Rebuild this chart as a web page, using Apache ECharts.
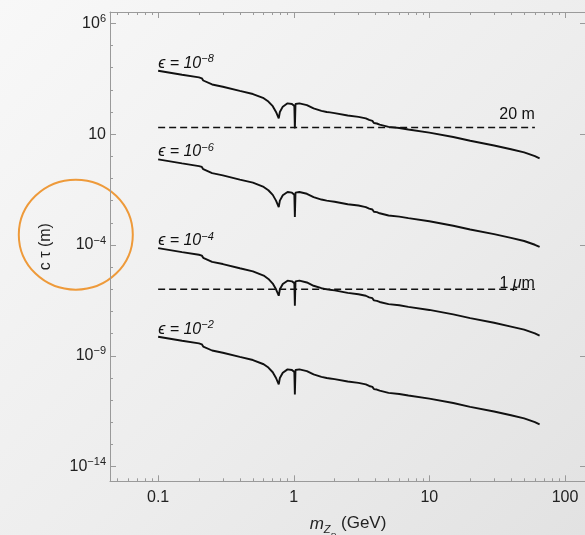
<!DOCTYPE html>
<html>
<head>
<meta charset="utf-8">
<script src="https://cdn.jsdelivr.net/npm/echarts@6/dist/echarts.min.js"></script>
<style>
  html, body { margin: 0; padding: 0; }
  #chart { width: 585px; height: 535px; background: linear-gradient(135deg, #f8f8f8 0%, #ededed 55%, #e2e2e2 100%); }
</style>
</head>
<body>
<div id="chart"></div>
<script>
// 质量 (GeV)
var mZD = [0.1, 0.15, 0.2, 0.21, 0.215, 0.22, 0.25, 0.3, 0.4, 0.5, 0.6, 0.65, 0.7, 0.74, 0.775, 0.79, 0.83, 0.9, 0.97,
  1.01, 1.019, 1.03, 1.1, 1.25, 1.4, 1.6, 1.75, 1.8, 1.85, 1.9, 2.0, 2.5, 3.0, 3.4, 3.6, 3.7, 3.8, 3.9, 4.0, 4.1, 4.3,
  5.0, 6.0, 7.0, 10, 15, 20, 30, 40, 50, 60, 65];
// log10(c tau / m)，每条曲线一个数组
var ctEps8 = [3.86, 3.68, 3.56, 3.52, 3.42, 3.37, 3.24, 3.14, 2.95, 2.81, 2.62, 2.47, 2.26, 2.00, 1.71, 2.00, 2.24, 2.39, 2.36,
  2.27, 1.26, 2.36, 2.39, 2.31, 2.16, 2.05, 2.00, 2.04, 1.98, 2.02, 1.95, 1.84, 1.78, 1.71, 1.64, 1.56, 1.60, 1.50, 1.44, 1.48, 1.43,
  1.33, 1.28, 1.21, 1.07, 0.87, 0.70, 0.49, 0.32, 0.18, 0.01, -0.09];
var ctEps6 = [-0.14, -0.32, -0.44, -0.48, -0.58, -0.63, -0.76, -0.86, -1.05, -1.19, -1.38, -1.53, -1.74, -2.00, -2.29, -2.00, -1.76, -1.61, -1.64,
  -1.73, -2.74, -1.64, -1.61, -1.69, -1.84, -1.95, -2.00, -1.96, -2.02, -1.98, -2.05, -2.16, -2.22, -2.29, -2.36, -2.44, -2.40, -2.50, -2.56, -2.52, -2.57,
  -2.67, -2.72, -2.79, -2.93, -3.13, -3.30, -3.51, -3.68, -3.82, -3.99, -4.09];
var ctEps4 = [-4.14, -4.32, -4.44, -4.48, -4.58, -4.63, -4.76, -4.86, -5.05, -5.19, -5.38, -5.53, -5.74, -6.00, -6.29, -6.00, -5.76, -5.61, -5.64,
  -5.73, -6.74, -5.64, -5.61, -5.69, -5.84, -5.95, -6.00, -5.96, -6.02, -5.98, -6.05, -6.16, -6.22, -6.29, -6.36, -6.44, -6.40, -6.50, -6.56, -6.52, -6.57,
  -6.67, -6.72, -6.79, -6.93, -7.13, -7.30, -7.51, -7.68, -7.82, -7.99, -8.09];
var ctEps2 = [-8.14, -8.32, -8.44, -8.48, -8.58, -8.63, -8.76, -8.86, -9.05, -9.19, -9.38, -9.53, -9.74, -10.00, -10.29, -10.00, -9.76, -9.61, -9.64,
  -9.73, -10.74, -9.64, -9.61, -9.69, -9.84, -9.95, -10.00, -9.96, -10.02, -9.98, -10.05, -10.16, -10.22, -10.29, -10.36, -10.44, -10.40, -10.50, -10.56, -10.52, -10.57,
  -10.67, -10.72, -10.79, -10.93, -11.13, -11.30, -11.51, -11.68, -11.82, -11.99, -12.09];
var epsExp = [-8, -6, -4, -2];
// 参考线
var refMass = [0.1, 60];
var refLen = [20, 1e-6];
// 刻度
var xMajor = [0.1, 1, 10, 100];
var xMinor = [0.05, 0.06, 0.07, 0.08, 0.09, 0.2, 0.3, 0.4, 0.5, 0.6, 0.7, 0.8, 0.9, 2, 3, 4, 5, 6, 7, 8, 9, 20, 30, 40, 50, 60, 70, 80, 90];
var yMajor = [-14, -9, -4, 1, 6];
var yMinor = [-13, -12, -11, -10, -8, -7, -6, -5, -3, -2, -1, 0, 2, 3, 4, 5];

var FONT = '"Liberation Sans", Arial, "DejaVu Sans", sans-serif';
var xMin = -1.355, xMax = 2.155, yMin = -14.66, yMax = 6.51;
var axisGray = '#9a9a9a';

function lg(v) { return Math.log10(v); }
function sup(n) { return (n < 0 ? '\u2212' : '') + Math.abs(n); }

var myChart = echarts.init(document.getElementById('chart'));

function xAx(pos, ticks, len, showLabel, showLine) {
    return {
        type: 'value', position: pos, min: xMin, max: xMax,
        axisLine: { show: showLine, onZero: false, lineStyle: { color: axisGray, width: 1 } },
        axisTick: { show: true, inside: true, length: len, customValues: ticks.map(lg), lineStyle: { color: axisGray } },
        axisLabel: {
            show: showLabel, customValues: xMajor.map(lg), margin: 8,
            color: '#222', fontSize: 16, fontFamily: FONT,
            formatter: function (v) {
                for (var i = 0; i < xMajor.length; i++) if (Math.abs(lg(xMajor[i]) - v) < 1e-6) return String(xMajor[i]);
                return '';
            }
        },
        splitLine: { show: false }
    };
}
function yAx(pos, ticks, len, showLabel, showLine) {
    return {
        type: 'value', position: pos, min: yMin, max: yMax,
        axisLine: { show: showLine, onZero: false, lineStyle: { color: axisGray, width: 1 } },
        axisTick: { show: true, inside: true, length: len, customValues: ticks, lineStyle: { color: axisGray } },
        axisLabel: {
            show: showLabel, customValues: yMajor, margin: 4,
            formatter: function (v) {
                v = Math.round(v);
                return v === 1 ? '{b|10}' : '{b|10}{s|' + sup(v) + '}';
            },
            rich: {
                b: { fontSize: 16, lineHeight: 20, color: '#222', fontFamily: FONT },
                s: { fontSize: 11, lineHeight: 11, color: '#222', fontFamily: FONT, verticalAlign: 'top' }
            }
        },
        splitLine: { show: false }
    };
}

var xAxes = [
    xAx('bottom', xMajor, 6, true, true),
    xAx('bottom', xMinor, 3, false, false),
    xAx('top', xMajor, 6, false, true),
    xAx('top', xMinor, 3, false, false)
];
xAxes[0].name = '{m|m}{z|Z}{d|D}{n| (GeV)}';
xAxes[0].nameLocation = 'middle';
xAxes[0].nameGap = 34;
xAxes[0].nameTextStyle = {
    rich: {
        m: { fontSize: 17, lineHeight: 17, fontStyle: 'italic', color: '#222', fontFamily: FONT, verticalAlign: 'top' },
        z: { fontSize: 11, lineHeight: 11, fontStyle: 'italic', color: '#222', fontFamily: FONT, verticalAlign: 'top', padding: [9, 0, 0, 0] },
        d: { fontSize: 8, lineHeight: 8, fontStyle: 'italic', color: '#222', fontFamily: FONT, verticalAlign: 'top', padding: [16, 0, 0, 0] },
        n: { fontSize: 17, lineHeight: 17, color: '#222', fontFamily: FONT, verticalAlign: 'top' }
    }
};

var yAxes = [
    yAx('left', yMajor, 6, true, true),
    yAx('left', yMinor, 3, false, false),
    yAx('right', yMajor, 6, false, true)
];
yAxes[0].name = 'c \u03c4 (m)';
yAxes[0].nameLocation = 'middle';
yAxes[0].nameGap = 56;
yAxes[0].nameTextStyle = { fontSize: 16, color: '#222', fontFamily: FONT };

var curves = [ctEps8, ctEps6, ctEps4, ctEps2];
var series = [];
curves.forEach(function (c, k) {
    series.push({
        type: 'line',
        xAxisIndex: 0, yAxisIndex: 0,
        showSymbol: false,
        silent: true,
        lineStyle: { color: '#111', width: 1.9 },
        data: mZD.map(function (m, i) { return [lg(m), c[i]]; }),
        markPoint: {
            symbol: 'circle', symbolSize: 0, silent: true, animation: false,
            data: [{
                coord: [lg(mZD[0]), c[0]],
                label: {
                    show: true, position: [0, 2], align: 'left', verticalAlign: 'bottom',
                    formatter: '{e|\u03f5 = 10}{s|' + sup(epsExp[k]) + '}',
                    rich: {
                        e: { fontSize: 16, lineHeight: 19, fontStyle: 'italic', color: '#111', fontFamily: FONT },
                        s: { fontSize: 11, lineHeight: 11, fontStyle: 'italic', color: '#111', fontFamily: FONT, verticalAlign: 'top' }
                    }
                }
            }]
        }
    });
});

var refText = ['{r|20 m}', '{r|1 }{i|\u03bc}{r|m}'];
var refOffset = [-4, 3];
refLen.forEach(function (L, k) {
    series.push({
        type: 'line',
        xAxisIndex: 0, yAxisIndex: 0,
        showSymbol: false,
        silent: true,
        lineStyle: { color: '#111', width: 1.4, type: [7, 4] },
        data: refMass.map(function (m) { return [lg(m), lg(L)]; }),
        markPoint: {
            symbol: 'circle', symbolSize: 0, silent: true, animation: false,
            data: [{
                coord: [lg(refMass[1]), lg(L)],
                label: {
                    show: true, position: [0, refOffset[k]], align: 'right', verticalAlign: 'bottom',
                    formatter: refText[k],
                    rich: {
                        r: { fontSize: 16, lineHeight: 18, color: '#111', fontFamily: FONT },
                        i: { fontSize: 16, lineHeight: 18, fontStyle: 'italic', color: '#111', fontFamily: FONT }
                    }
                }
            }]
        }
    });
});

var option = {
    animation: false,
    grid: { left: 110, top: 12, right: -1, bottom: 53.7, containLabel: false, outerBoundsMode: 'none' },
    xAxis: xAxes,
    yAxis: yAxes,
    series: series,
    graphic: [{
        type: 'ellipse', silent: true,
        shape: { cx: 75.8, cy: 234.7, rx: 57, ry: 55 },
        style: { fill: 'none', stroke: '#ee9a3a', lineWidth: 2 }
    }]
};
myChart.setOption(option);
</script>
</body>
</html>
